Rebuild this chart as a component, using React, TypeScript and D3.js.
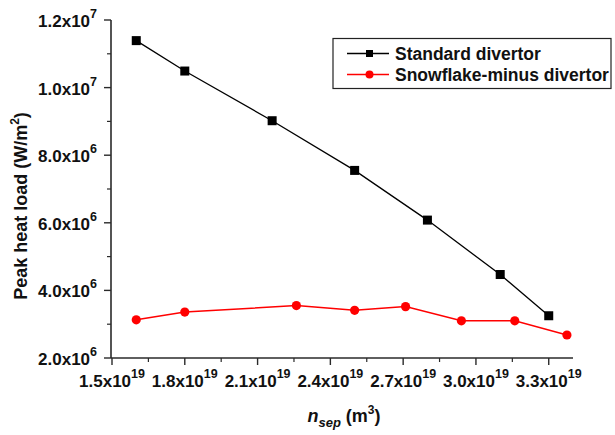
import React, { useEffect, useRef } from "react";
import * as d3 from "d3";

// Separatrix density (m^-3)
const nSepStandard = [1.6e19, 1.8e19, 2.16e19, 2.5e19, 2.8e19, 3.1e19, 3.3e19];
// Peak heat load, standard divertor (W/m^2)
const heatStandard = [1.139e7, 1.049e7, 9.02e6, 7.55e6, 6.08e6, 4.47e6, 3.25e6];

const nSepSnowflake = [1.6e19, 1.8e19, 2.26e19, 2.5e19, 2.71e19, 2.94e19, 3.16e19, 3.375e19];
// Peak heat load, snowflake-minus divertor (W/m^2)
const heatSnowflake = [3.13e6, 3.36e6, 3.55e6, 3.41e6, 3.52e6, 3.1e6, 3.1e6, 2.68e6];

const xTicks = [1.5e19, 1.8e19, 2.1e19, 2.4e19, 2.7e19, 3.0e19, 3.3e19];
const xMinorTicks = [1.65e19, 1.95e19, 2.25e19, 2.55e19, 2.85e19, 3.15e19];
const yTicks = [2e6, 4e6, 6e6, 8e6, 1e7, 1.2e7];
const yMinorTicks = [3e6, 5e6, 7e6, 9e6, 1.1e7];

const seriesNames = ["Standard divertor", "Snowflake-minus divertor"];

const W = 615;
const H = 435;
const FONT = "Arial, 'Liberation Sans', Helvetica, sans-serif";

function sciParts(v: number): [string, string] {
  const e = Math.floor(Math.log10(v) + 1e-9);
  const m = v / Math.pow(10, e);
  return [m.toFixed(1) + "x10", String(e)];
}

export default function App() {
  const ref = useRef<SVGSVGElement>(null);

  useEffect(() => {
    const svg = d3.select(ref.current);
    svg.selectAll("*").remove();

    const x = d3.scaleLinear().domain([1.5e19, 3.4e19]).range([112, 573]);
    const y = d3.scaleLinear().domain([2e6, 1.2e7]).range([358, 20]);
    const axisColor = "#2a2a2a";

    // axes lines
    svg.append("line").attr("x1", x.range()[0] - 1).attr("x2", x.range()[1])
      .attr("y1", y.range()[0]).attr("y2", y.range()[0])
      .attr("stroke", axisColor).attr("stroke-width", 1.6);
    svg.append("line").attr("x1", x.range()[0] - 1).attr("x2", x.range()[0] - 1)
      .attr("y1", y.range()[0]).attr("y2", y.range()[1])
      .attr("stroke", axisColor).attr("stroke-width", 1.6);

    // x ticks
    const xa = svg.append("g");
    xTicks.forEach((t) => {
      xa.append("line").attr("x1", x(t)).attr("x2", x(t))
        .attr("y1", y.range()[0]).attr("y2", y.range()[0] + 7)
        .attr("stroke", axisColor).attr("stroke-width", 1.4);
      const [m, e] = sciParts(t);
      const tx = xa.append("text").attr("x", x(t)).attr("y", 387)
        .attr("text-anchor", "middle").attr("font-family", FONT)
        .attr("font-weight", "bold").attr("font-size", 17).attr("fill", "#111");
      tx.append("tspan").text(m);
      tx.append("tspan").attr("dy", -9).attr("font-size", 12.5).text(e);
    });
    xMinorTicks.forEach((t) => {
      xa.append("line").attr("x1", x(t)).attr("x2", x(t))
        .attr("y1", y.range()[0]).attr("y2", y.range()[0] + 4)
        .attr("stroke", axisColor).attr("stroke-width", 1.2);
    });

    // y ticks
    const ya = svg.append("g");
    yTicks.forEach((t) => {
      ya.append("line").attr("x1", x.range()[0] - 8).attr("x2", x.range()[0] - 1)
        .attr("y1", y(t)).attr("y2", y(t))
        .attr("stroke", axisColor).attr("stroke-width", 1.4);
      const [m, e] = sciParts(t);
      const tx = ya.append("text").attr("x", 97).attr("y", y(t) + 7)
        .attr("text-anchor", "end").attr("font-family", FONT)
        .attr("font-weight", "bold").attr("font-size", 17).attr("fill", "#111");
      tx.append("tspan").text(m);
      tx.append("tspan").attr("dy", -9).attr("font-size", 12.5).text(e);
    });
    yMinorTicks.forEach((t) => {
      ya.append("line").attr("x1", x.range()[0] - 5).attr("x2", x.range()[0] - 1)
        .attr("y1", y(t)).attr("y2", y(t))
        .attr("stroke", axisColor).attr("stroke-width", 1.2);
    });

    // axis titles
    const xt = svg.append("text").attr("x", 344).attr("y", 422)
      .attr("text-anchor", "middle").attr("font-family", FONT)
      .attr("font-weight", "bold").attr("font-size", 18).attr("fill", "#111");
    xt.append("tspan").attr("font-style", "italic").text("n");
    xt.append("tspan").attr("font-style", "italic").attr("font-size", 13).attr("dy", 5).text("sep");
    xt.append("tspan").attr("dy", -5).text(" (m");
    xt.append("tspan").attr("dy", -8).attr("font-size", 12).text("3");
    xt.append("tspan").attr("dy", 8).text(")");

    const yt = svg.append("text")
      .attr("transform", "translate(27,206) rotate(-90)")
      .attr("text-anchor", "middle").attr("font-family", FONT)
      .attr("font-weight", "bold").attr("font-size", 18).attr("fill", "#111");
    yt.append("tspan").text("Peak heat load (W/m");
    yt.append("tspan").attr("dy", -8).attr("font-size", 12).text("2");
    yt.append("tspan").attr("dy", 8).text(")");

    const line = d3.line<[number, number]>().x((d) => x(d[0])).y((d) => y(d[1]));
    const stdData = nSepStandard.map((n, i) => [n, heatStandard[i]] as [number, number]);
    const sfData = nSepSnowflake.map((n, i) => [n, heatSnowflake[i]] as [number, number]);

    svg.append("path").datum(stdData).attr("d", line).attr("fill", "none")
      .attr("stroke", "#000").attr("stroke-width", 1.3);
    svg.append("g").selectAll("rect").data(stdData).join("rect")
      .attr("x", (d) => x(d[0]) - 4.5).attr("y", (d) => y(d[1]) - 4.5)
      .attr("width", 9).attr("height", 9).attr("fill", "#000");

    svg.append("path").datum(sfData).attr("d", line).attr("fill", "none")
      .attr("stroke", "#ff0000").attr("stroke-width", 1.5);
    svg.append("g").selectAll("circle").data(sfData).join("circle")
      .attr("cx", (d) => x(d[0])).attr("cy", (d) => y(d[1]))
      .attr("r", 4.6).attr("fill", "#ff0000");

    // legend
    const lg = svg.append("g");
    lg.append("rect").attr("x", 333).attr("y", 38.5).attr("width", 278).attr("height", 50)
      .attr("fill", "#fff").attr("stroke", "#222").attr("stroke-width", 1.2);
    const rows = [
      { name: seriesNames[0], color: "#000", y: 53.5, shape: "square" },
      { name: seriesNames[1], color: "#ff0000", y: 74.5, shape: "circle" },
    ];
    rows.forEach((r) => {
      lg.append("line").attr("x1", 347).attr("x2", 389).attr("y1", r.y).attr("y2", r.y)
        .attr("stroke", r.color).attr("stroke-width", 1.3);
      if (r.shape === "square") {
        lg.append("rect").attr("x", 366).attr("y", r.y - 3.5).attr("width", 7).attr("height", 7)
          .attr("fill", r.color);
      } else {
        lg.append("circle").attr("cx", 369.5).attr("cy", r.y).attr("r", 4).attr("fill", r.color);
      }
      lg.append("text").attr("x", 395).attr("y", r.y + 6)
        .attr("font-family", FONT).attr("font-weight", "bold").attr("font-size", 17.5)
        .attr("fill", "#111").text(r.name);
    });
  }, []);

  return (
    <svg
      ref={ref}
      width={W}
      height={H}
      style={{ position: "absolute", left: 0, top: 0, background: "#fff" }}
    />
  );
}
